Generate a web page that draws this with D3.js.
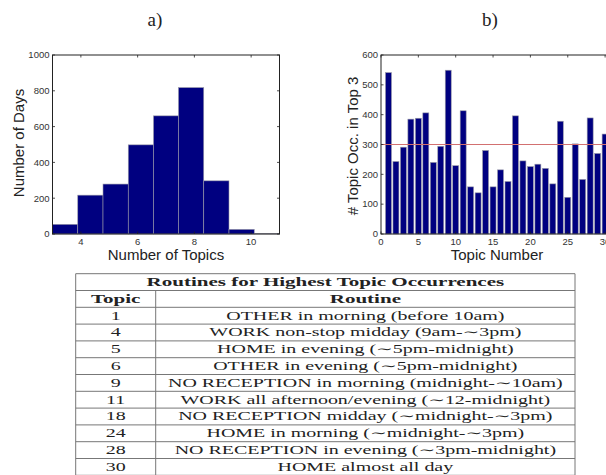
<!DOCTYPE html>
<html>
<head>
<meta charset="utf-8">
<script src="https://cdn.jsdelivr.net/npm/d3@7"></script>
<style>
  body { margin: 0; background: #fff; }
  svg { display: block; }
  .tick-label { font-family: "Liberation Sans", Arial, sans-serif; font-size: 9.5px; fill: #333; }
  .axis-title { font-family: "Liberation Sans", Arial, sans-serif; font-size: 15px; fill: #222; }
  .panel-title { font-family: "Liberation Serif", "DejaVu Serif", serif; font-size: 19px; fill: #222; }
  .cell { font-family: "Liberation Serif", "DejaVu Serif", serif; font-size: 11.5px; fill: #222; }
</style>
</head>
<body>
<div id="chart"></div>
<script>
// a) histogramme : bornes des classes et nombre de jours
const histEdges = [3, 3.89, 4.78, 5.67, 6.56, 7.44, 8.33, 9.22, 10.11, 11];
const histCounts = [54, 217, 279, 498, 660, 818, 297, 26, 2];
const histXTicks = [4, 6, 8, 10];
const histYTicks = [0, 200, 400, 600, 800, 1000];

// b) occurrences de chaque topic dans le top 3
const topicIds = [1, 2, 3, 4, 5, 6, 7, 8, 9, 10, 11, 12, 13, 14, 15, 16, 17, 18, 19, 20,
                  21, 22, 23, 24, 25, 26, 27, 28, 29, 30];
const topicOcc = [541, 243, 291, 385, 388, 406, 240, 294, 549, 229, 413, 158, 138, 280, 158,
                  215, 176, 396, 245, 226, 234, 220, 168, 378, 123, 302, 183, 389, 270, 335];
const occXTicks = [0, 5, 10, 15, 20, 25, 30];
const occYTicks = [0, 100, 200, 300, 400, 500, 600];
const threshold = 300;

// tableau des routines
const tableTitle = "Routines for Highest Topic Occurrences";
const tableHeads = ["Topic", "Routine"];
const tableTopics = [1, 4, 5, 6, 9, 11, 18, 24, 28, 30];
const tableRoutines = [
  "OTHER in morning (before 10am)",
  "WORK non-stop midday (9am-\u223C3pm)",
  "HOME in evening (\u223C5pm-midnight)",
  "OTHER in evening (\u223C5pm-midnight)",
  "NO RECEPTION in morning (midnight-\u223C10am)",
  "WORK all afternoon/evening (\u223C12-midnight)",
  "NO RECEPTION midday (\u223Cmidnight-\u223C3pm)",
  "HOME in morning (\u223Cmidnight-\u223C3pm)",
  "NO RECEPTION in evening (\u223C3pm-midnight)",
  "HOME almost all day"
];

const W = 606, H = 475;
const svg = d3.select("#chart").append("svg").attr("width", W).attr("height", H);

const barFill = "#000080";
const barEdge = "#9a9aa8";
const tickLen = 2.5;

// cadre façon Matlab : boîte + graduations intérieures des quatre côtés
function drawFrame(g, x, y, xTicks, yTicks) {
  const [x0, x1] = x.range();
  const [y0, y1] = y.range();
  g.append("rect")
    .attr("x", x0).attr("y", y1)
    .attr("width", x1 - x0).attr("height", y0 - y1)
    .attr("fill", "none").attr("stroke", "#222").attr("stroke-width", 1);

  xTicks.forEach(t => {
    g.append("line").attr("x1", x(t)).attr("x2", x(t)).attr("y1", y0).attr("y2", y0 - tickLen)
      .attr("stroke", "#222").attr("stroke-width", 0.8);
    g.append("line").attr("x1", x(t)).attr("x2", x(t)).attr("y1", y1).attr("y2", y1 + tickLen)
      .attr("stroke", "#222").attr("stroke-width", 0.8);
    g.append("text").attr("class", "tick-label")
      .attr("x", x(t)).attr("y", y0 + 11)
      .attr("text-anchor", "middle")
      .text(t);
  });
  yTicks.forEach(t => {
    g.append("line").attr("x1", x0).attr("x2", x0 + tickLen).attr("y1", y(t)).attr("y2", y(t))
      .attr("stroke", "#222").attr("stroke-width", 0.8);
    g.append("line").attr("x1", x1).attr("x2", x1 - tickLen).attr("y1", y(t)).attr("y2", y(t))
      .attr("stroke", "#222").attr("stroke-width", 0.8);
    g.append("text").attr("class", "tick-label")
      .attr("x", x0 - 3).attr("y", y(t) + 3.3)
      .attr("text-anchor", "end")
      .text(t);
  });
}

// ---- a) ----
const gA = svg.append("g");
const xA = d3.scaleLinear().domain([3, 11]).range([52.5, 279.5]);
const yA = d3.scaleLinear().domain([0, 1000]).range([234, 55]);

gA.selectAll("rect.bin")
  .data(histCounts)
  .enter().append("rect")
  .attr("class", "bin")
  .attr("x", (d, i) => xA(histEdges[i]))
  .attr("width", (d, i) => xA(histEdges[i + 1]) - xA(histEdges[i]))
  .attr("y", d => yA(d))
  .attr("height", d => yA(0) - yA(d))
  .attr("fill", barFill)
  .attr("stroke", barEdge)
  .attr("stroke-width", 0.6);

drawFrame(gA, xA, yA, histXTicks, histYTicks);

gA.append("text").attr("class", "axis-title")
  .attr("x", 166).attr("y", 260).attr("text-anchor", "middle")
  .text("Number of Topics");
gA.append("text").attr("class", "axis-title")
  .attr("transform", "translate(24,143) rotate(-90)")
  .attr("text-anchor", "middle")
  .text("Number of Days");
svg.append("text").attr("class", "panel-title")
  .attr("x", 155).attr("y", 26).attr("text-anchor", "middle")
  .text("a)");

// ---- b) ----
const gB = svg.append("g");
const xB = d3.scaleLinear().domain([0, 32]).range([381, 381 + 32 * 7.47]);
const yB = d3.scaleLinear().domain([0, 600]).range([234, 55]);
const barW = 0.8;

gB.selectAll("rect.occ")
  .data(topicOcc)
  .enter().append("rect")
  .attr("class", "occ")
  .attr("x", (d, i) => xB(topicIds[i] - barW / 2))
  .attr("width", xB(barW) - xB(0))
  .attr("y", d => yB(d))
  .attr("height", d => yB(0) - yB(d))
  .attr("fill", barFill)
  .attr("stroke", barEdge)
  .attr("stroke-width", 0.6);

gB.append("line")
  .attr("x1", xB.range()[0]).attr("x2", xB.range()[1])
  .attr("y1", yB(threshold)).attr("y2", yB(threshold))
  .attr("stroke", "#d27070").attr("stroke-width", 1.1);

drawFrame(gB, xB, yB, occXTicks, occYTicks);

gB.append("text").attr("class", "axis-title")
  .attr("x", 497).attr("y", 260).attr("text-anchor", "middle")
  .text("Topic Number");
gB.append("text").attr("class", "axis-title")
  .attr("transform", "translate(358,146) rotate(-90)")
  .attr("text-anchor", "middle")
  .text("# Topic Occ. in Top 3");
svg.append("text").attr("class", "panel-title")
  .attr("x", 490).attr("y", 26).attr("text-anchor", "middle")
  .text("b)");

// ---- tableau ----
const tL = 75.7, tR = 575, tT = 273.7, rowH = 16.8, colSplit = 155.7;
const nRows = 2 + tableTopics.length;
const gT = svg.append("g");
const lineCol = "#777";

for (let r = 0; r <= nRows; r++) {
  gT.append("line")
    .attr("x1", tL).attr("x2", tR)
    .attr("y1", tT + r * rowH).attr("y2", tT + r * rowH)
    .attr("stroke", lineCol).attr("stroke-width", 1);
}
gT.append("line").attr("x1", tL).attr("x2", tL).attr("y1", tT).attr("y2", tT + nRows * rowH)
  .attr("stroke", lineCol).attr("stroke-width", 1);
gT.append("line").attr("x1", tR).attr("x2", tR).attr("y1", tT).attr("y2", tT + nRows * rowH)
  .attr("stroke", lineCol).attr("stroke-width", 1);
gT.append("line").attr("x1", colSplit).attr("x2", colSplit).attr("y1", tT + rowH).attr("y2", tT + nRows * rowH)
  .attr("stroke", lineCol).attr("stroke-width", 1);

// le texte du tableau est étiré horizontalement dans l'original
function cell(txt, cx, row, bold) {
  return gT.append("text").attr("class", "cell")
    .attr("text-anchor", "middle")
    .attr("font-weight", bold ? "bold" : null)
    .attr("data-cx", cx).attr("data-y", tT + row * rowH + 12.3)
    .text(txt);
}

const boldCells = [], plainCells = [];
boldCells.push(cell(tableTitle, (tL + tR) / 2, 0, true));
boldCells.push(cell(tableHeads[0], (tL + colSplit) / 2, 1, true));
boldCells.push(cell(tableHeads[1], (colSplit + tR) / 2, 1, true));
tableTopics.forEach((t, i) => {
  plainCells.push(cell(t, (tL + colSplit) / 2, i + 2, false));
  plainCells.push(cell(tableRoutines[i], (colSplit + tR) / 2, i + 2, false));
});

// largeurs mesurées sur l'original : titre ~358px, ligne "9" ~395px
const sxBold = 358 / boldCells[0].node().getComputedTextLength();
const sxPlain = 395 / plainCells[9].node().getComputedTextLength();
function place(c, sx) {
  c.attr("transform", `translate(${c.attr("data-cx")},${c.attr("data-y")}) scale(${sx},1)`);
}
boldCells.forEach(c => place(c, sxBold));
plainCells.forEach(c => place(c, sxPlain));
</script>
</body>
</html>
